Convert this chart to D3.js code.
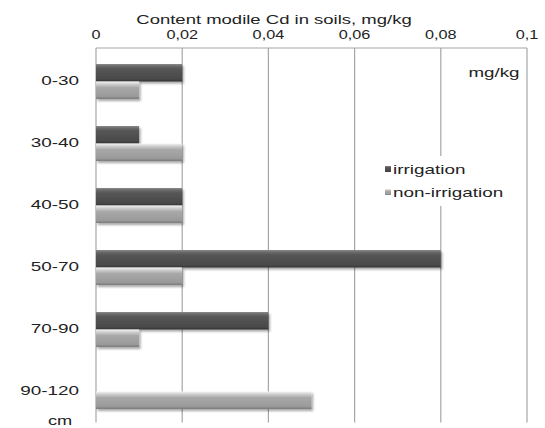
<!DOCTYPE html>
<html>
<head>
<meta charset="utf-8">
<script src="https://cdn.jsdelivr.net/npm/d3@7"></script>
<style>
  html, body { margin: 0; padding: 0; background: #fff; }
  svg { display: block; }
  text { font-family: "Liberation Sans", Arial, sans-serif; fill: #222; }
</style>
</head>
<body>
<svg id="chart" width="545" height="428"></svg>
<script>
// Soil depth layers (cm) and mobile Cd content (mg/kg)
const depths = ["0-30", "30-40", "40-50", "50-70", "70-90", "90-120"];
const irrigation = [0.02, 0.01, 0.02, 0.08, 0.04, null];
const nonIrrigation = [0.01, 0.02, 0.02, 0.02, 0.01, 0.05];
const xTicks = [0, 0.02, 0.04, 0.06, 0.08, 0.1];
const xTickLabels = ["0", "0,02", "0,04", "0,06", "0,08", "0,1"];
const seriesNames = ["irrigation", "non-irrigation"];

const svg = d3.select("#chart");

const x = d3.scaleLinear().domain([0, 0.1]).range([96, 527]);
const y = d3.scaleBand().domain(depths).range([50.5, 422.5])
  .paddingInner(0.435).paddingOuter(0.2175);
const sub = d3.scaleBand().domain(seriesNames).range([0, y.bandwidth()]);

const defs = svg.append("defs");
function grad(id, stops) {
  const g = defs.append("linearGradient").attr("id", id)
    .attr("x1", 0).attr("y1", 0).attr("x2", 0).attr("y2", 1);
  stops.forEach(([o, c]) => g.append("stop").attr("offset", o).attr("stop-color", c));
}
grad("gDark", [[0, "#8c8c8c"], [0.12, "#6a6a6a"], [0.3, "#555"], [0.85, "#4a4a4a"], [1, "#333"]]);
grad("gLight", [[0, "#f4f4f4"], [0.15, "#cfcfcf"], [0.35, "#a8a8a8"], [0.85, "#9a9a9a"], [1, "#7a7a7a"]]);
const shadow = defs.append("filter").attr("id", "shadow")
  .attr("x", "-5%").attr("y", "-20%").attr("width", "115%").attr("height", "160%");
shadow.append("feDropShadow").attr("dx", 1.5).attr("dy", 2).attr("stdDeviation", 1.2)
  .attr("flood-color", "#000").attr("flood-opacity", 0.35);

// Text drawn with a horizontal stretch
function stretchedText(sel, tx, ty, anchor, size, sx, txt) {
  return sel.append("text")
    .attr("transform", `translate(${tx},${ty}) scale(${sx},1)`)
    .attr("text-anchor", anchor).attr("dominant-baseline", "central")
    .attr("font-size", size).text(txt);
}

// Vertical gridlines and top axis
const grid = svg.append("g");
grid.selectAll("line").data(xTicks).join("line")
  .attr("x1", d => x(d)).attr("x2", d => x(d))
  .attr("y1", 48).attr("y2", 422.5)
  .attr("stroke", "#a6a6a6").attr("stroke-width", 1.2);
svg.append("line").attr("x1", x(0)).attr("x2", x(0.1)).attr("y1", 48).attr("y2", 48)
  .attr("stroke", "#a6a6a6").attr("stroke-width", 1.2);

xTicks.forEach((t, i) => stretchedText(svg, x(t), 35, "middle", 12.5, 1.3, xTickLabels[i]));
stretchedText(svg, 274, 19, "middle", 13.5, 1.37, "Content modile Cd in soils, mg/kg");

// Depth labels
depths.forEach(d => stretchedText(svg, 79, y(d) + y.bandwidth() / 2 - 1, "end", 13.5, 1.4, d));
stretchedText(svg, 60, 420, "middle", 13, 1.4, "cm");
stretchedText(svg, 494, 73, "middle", 12.5, 1.5, "mg/kg");

// Bars
function drawBars(values, name, fill) {
  const rows = depths.map((d, i) => ({ d, v: values[i] })).filter(r => r.v != null);
  const g = svg.append("g").attr("filter", "url(#shadow)");
  g.selectAll("rect").data(rows).join("rect")
    .attr("x", x(0))
    .attr("y", r => y(r.d) + sub(name))
    .attr("width", r => x(r.v) - x(0))
    .attr("height", sub.bandwidth())
    .attr("fill", fill);
}
drawBars(irrigation, "irrigation", "url(#gDark)");
drawBars(nonIrrigation, "non-irrigation", "url(#gLight)");

// Legend
const lg = svg.append("g");
lg.append("rect").attr("x", 382).attr("y", 156).attr("width", 134).attr("height", 50).attr("fill", "#fff");
const swatch = ["url(#gDark)", "url(#gLight)"];
seriesNames.forEach((n, i) => {
  const cy = 169 + i * 23;
  lg.append("rect").attr("x", 385).attr("y", cy - 3).attr("width", 6).attr("height", 6)
    .attr("fill", swatch[i]);
  stretchedText(lg, 393, cy, "start", 13.5, 1.4, n);
});
</script>
</body>
</html>
